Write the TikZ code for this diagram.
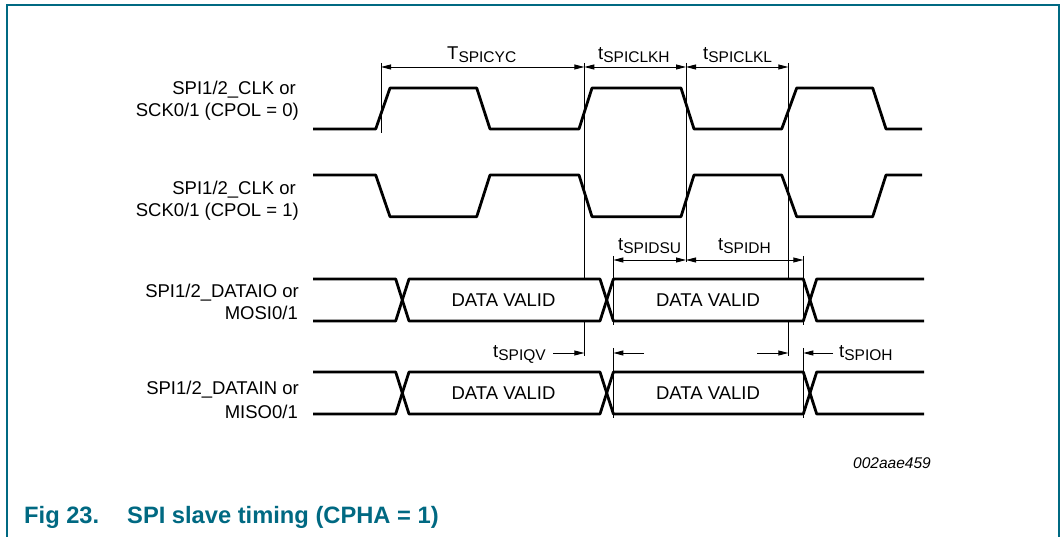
\documentclass[tikz,border=0pt]{standalone}
\usepackage{fontspec}
\setmainfont{Liberation Sans}
\usetikzlibrary{arrows.meta}
\definecolor{nxpteal}{RGB}{0,105,130}
\newcommand{\tsub}[2]{#1\raisebox{-2.6pt}{\fontsize{15.5}{16}\selectfont #2}}
\tikzset{
  wave/.style={line width=2.8pt, line join=round},
  guide/.style={line width=0.9pt},
  dim/.style={line width=0.9pt, {Triangle[length=10pt,width=5pt]}-{Triangle[length=10pt,width=5pt]}},
  dimr/.style={line width=0.9pt, -{Triangle[length=10pt,width=5pt]}},
  siglabel/.style={anchor=base east, inner sep=0pt},
  tlabel/.style={anchor=base west, inner sep=0pt},
  dv/.style={inner sep=0pt},
  frameline/.style={draw=nxpteal, line width=1.4pt},
}
\begin{document}
\begin{tikzpicture}[x=1pt, y=-1pt, font=\fontsize{18.5}{22.5}\selectfont]
\useasboundingbox (0,0) rectangle (1061,537);
% frame
\draw[frameline] (7,537) -- (7,5) -- (1059,5) -- (1059,537);

% signal labels
\node[siglabel] (l1a) at (296,95) {SPI1/2\_CLK or};
\node[siglabel] (l1b) at (299,117) {SCK0/1 (CPOL = 0)};
\node[siglabel] (l2a) at (296,195) {SPI1/2\_CLK or};
\node[siglabel] (l2b) at (299,217) {SCK0/1 (CPOL = 1)};
\node[siglabel] (l3a) at (299,298) {SPI1/2\_DATAIO or};
\node[siglabel] (l3b) at (298,320) {MOSI0/1};
\node[siglabel] (l4a) at (299,395) {SPI1/2\_DATAIN or};
\node[siglabel] (l4b) at (298,418) {MISO0/1};

% clocks
\draw[wave] (313,129) -- (375.7,129) -- (390,88) -- (476.7,88) -- (490,129) -- (579,129) -- (592,88) -- (681,88) -- (694,129) -- (781.7,129) -- (796.7,88) -- (872.7,88) -- (886,129) -- (922,129);
\draw[wave] (313,175) -- (375.7,175) -- (390,216.7) -- (476.7,216.7) -- (490,175) -- (579,175) -- (592,216.7) -- (681,216.7) -- (694,175) -- (781.7,175) -- (796.7,216.7) -- (872.7,216.7) -- (886,175) -- (922,175);

% data buses
\foreach \yt/\yb/\ym in {279/321/300, 372/414/393}{
  \draw[wave] (313,\yt) -- (395.7,\yt) -- (402.3,\ym) -- (395.7,\yb) -- (313,\yb);
  \draw[wave] (402.3,\ym) -- (409,\yt) -- (600,\yt) -- (606.7,\ym) -- (600,\yb) -- (409,\yb) -- cycle;
  \draw[wave] (606.7,\ym) -- (613.4,\yt) -- (803.3,\yt) -- (810,\ym) -- (803.3,\yb) -- (613.4,\yb) -- cycle;
  \draw[wave] (924,\yt) -- (816.7,\yt) -- (810,\ym) -- (816.7,\yb) -- (924,\yb);
}
\node[dv] (dv1) at (503.5,300) {DATA VALID};
\node[dv] (dv2) at (708,300) {DATA VALID};
\node[dv] (dv3) at (503.5,393) {DATA VALID};
\node[dv] (dv4) at (708,393) {DATA VALID};

% guide coordinates
\coordinate (g1t) at (381,63);   \coordinate (g1b) at (381,133);
\coordinate (g2t) at (584.3,63); \coordinate (g2m) at (584.3,279);
\coordinate (g2n) at (584.3,321);\coordinate (g2b) at (584.3,356);
\coordinate (g3t) at (686,63);   \coordinate (g3b) at (686,262);
\coordinate (g4t) at (788.3,63); \coordinate (g4m) at (788.3,279);
\coordinate (g4n) at (788.3,321);\coordinate (g4b) at (788.3,356);
\coordinate (g5t) at (613.4,256);\coordinate (g5b) at (613.4,325);
\coordinate (g5u) at (613.4,348);\coordinate (g5v) at (613.4,418);
\coordinate (g6t) at (803.3,256);\coordinate (g6b) at (803.3,325);
\coordinate (g6u) at (803.3,348);\coordinate (g6v) at (803.3,418);

\draw[guide] (g1t) -- (g1b);
\draw[guide] (g2t) -- (g2m);  \draw[guide] (g2n) -- (g2b);
\draw[guide] (g3t) -- (g3b);
\draw[guide] (g4t) -- (g4m);  \draw[guide] (g4n) -- (g4b);
\draw[guide] (g5t) -- (g5b);  \draw[guide] (g5u) -- (g5v);
\draw[guide] (g6t) -- (g6b);  \draw[guide] (g6u) -- (g6v);

% dimension arrows
\coordinate (a1) at (381,67);   \coordinate (a2) at (584.3,67);
\coordinate (a3) at (686,67);   \coordinate (a4) at (788.3,67);
\draw[dim] (a1) -- (a2);
\draw[dim] (a2) -- (a3);
\draw[dim] (a3) -- (a4);
\coordinate (b1) at (613.4,260); \coordinate (b2) at (686,260); \coordinate (b3) at (803.3,260);
\draw[dim] (b1) -- (b2);
\draw[dim] (b2) -- (b3);
\coordinate (c1) at (553,353);  \coordinate (c2) at (584.3,353);
\coordinate (c3) at (644,353);  \coordinate (c4) at (613.4,353);
\coordinate (c5) at (757,353);  \coordinate (c6) at (788.3,353);
\coordinate (c7) at (833,353);  \coordinate (c8) at (803.3,353);
\draw[dimr] (c1) -- (c2);
\draw[dimr] (c3) -- (c4);
\draw[dimr] (c5) -- (c6);
\draw[dimr] (c7) -- (c8);

% timing labels
\node[tlabel] (tcyc) at (447,60) {\tsub{T}{SPICYC}};
\node[tlabel] (tclkh) at (598,60) {\tsub{t}{SPICLKH}};
\node[tlabel] (tclkl) at (703,60) {\tsub{t}{SPICLKL}};
\node[tlabel] (tdsu) at (618,251) {\tsub{t}{SPIDSU}};
\node[tlabel] (tdh) at (718,251) {\tsub{t}{SPIDH}};
\node[tlabel] (tqv) at (493,358) {\tsub{t}{SPIQV}};
\node[tlabel] (toh) at (839,358) {\tsub{t}{SPIOH}};

% id and caption
\node[tlabel, font=\fontsize{15.5}{16}\selectfont\itshape] (fid) at (853,468) {002aae459};
\node[tlabel, text=nxpteal, font=\fontsize{23.7}{26}\selectfont\bfseries] (cap1) at (24,523) {Fig 23.};
\node[tlabel, text=nxpteal, font=\fontsize{23.7}{26}\selectfont\bfseries] (cap2) at (127,523) {SPI slave timing (CPHA = 1)};
\end{tikzpicture}
\end{document}
